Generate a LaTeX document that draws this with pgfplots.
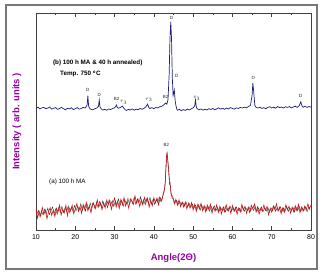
\documentclass[border=0pt]{standalone}
\usepackage{pgfplots}
\pgfplotsset{compat=1.18}
\usepackage{fontspec}
\setmainfont{Liberation Sans}
\definecolor{navyline}{RGB}{30,30,120}
\definecolor{redline}{RGB}{205,20,20}
\definecolor{lblpurple}{RGB}{150,0,160}
\definecolor{framegray}{RGB}{120,120,120}
\begin{document}
\begin{tikzpicture}
\begin{axis}[
  name=ax,
  scale only axis,
  width=275pt, height=217pt,
  xmin=10, xmax=80, ymin=0, ymax=100,
  xtick={10,20,...,80},
  minor x tick num=1,
  ytick=\empty,
  tick align=inside,
  major tick length=4pt,
  minor tick length=2.5pt,
  axis line style={black!75, line width=0.6pt},
  every tick/.style={black!75, line width=0.5pt},
  clip=false,
  /pgf/number format/assume math mode=true,
  xticklabel style={font=\fontsize{7}{8}\selectfont, yshift=-1pt},
  xlabel={Angle(2Θ)},
  ylabel={Intensity ( arb. units )},
  xlabel style={font=\fontsize{9.5}{11}\selectfont\bfseries, text=lblpurple, at={(axis description cs:0.5,-0.129)}, anchor=center},
  ylabel style={font=\fontsize{9.5}{11}\selectfont\bfseries, text=lblpurple, at={(axis description cs:-0.069,0.5)}, anchor=center, rotate=0},
]
% (b) annealed pattern
\addplot[navyline, line width=0.7pt] coordinates {
(10,56.0)(10.5,56.6)(11,55.8)(11.5,56.3)(12,56.5)(12.5,55.9)(13,56.2)(13.5,56.7)(14,55.7)(14.5,56.1)
(15,56.4)(15.5,55.6)(16,56.0)(16.5,56.5)(17,55.9)(17.5,55.4)(18,56.1)(18.5,55.8)(19,56.3)(19.5,55.5)
(20,55.9)(20.5,56.4)(21,55.7)(21.5,56.0)(22,56.5)(22.5,56.2)(23,57.5)(23.2,61.9)(23.4,57.0)(23.7,56.0)
(24,55.6)(24.5,55.4)(25,55.9)(25.5,56.2)(25.9,57.0)(26.1,59.9)(26.3,56.6)(26.6,55.8)(27,55.3)(27.5,55.6)
(28,55.2)(28.5,55.8)(29,55.5)(29.5,56.0)(30,56.3)(30.3,57.0)(30.5,57.6)(30.7,56.4)(31,56.1)(31.5,56.5)
(32,57.1)(32.3,56.3)(32.7,55.4)(33,55.1)(33.5,55.6)(34,55.3)(34.5,55.8)(35,55.2)(35.5,55.7)(36,55.4)
(36.5,56.0)(37,55.6)(37.5,56.1)(38,56.8)(38.4,58.0)(38.7,56.5)(39,56.0)(39.5,56.4)(40,55.9)(40.5,56.5)
(41,56.2)(41.5,56.8)(42,57.0)(42.5,57.6)(43,58.5)(43.3,58.0)(43.6,60.0)(43.9,72)(44.1,88)(44.3,96.0)
(44.5,88)(44.7,70)(44.9,62)(45.1,63.5)(45.2,64.5)(45.4,60)(45.6,57.5)(45.8,56.0)(46,55.2)(46.5,55.6)
(47,55.0)(47.5,55.5)(48,55.1)(48.5,55.7)(49,55.3)(49.5,55.8)(50,56.3)(50.4,57.2)(50.6,59.9)(50.8,56.8)
(51,55.9)(51.5,55.4)(52,55.8)(52.5,55.2)(53,55.7)(53.5,55.3)(54,55.9)(54.5,55.5)(55,56.0)(55.5,55.4)
(56,55.8)(56.5,56.3)(57,55.7)(57.5,56.1)(58,55.6)(58.5,56.2)(59,55.8)(59.5,56.4)(60,56.0)(60.5,55.7)
(61,56.3)(61.5,56.0)(62,56.5)(62.5,56.2)(63,56.6)(63.5,56.3)(64,56.8)(64.6,57.5)(65,62.0)(65.2,67.7)
(65.4,64.0)(65.7,57.5)(66,56.5)(66.5,56.2)(67,56.6)(67.5,56.0)(68,56.4)(68.5,55.9)(69,56.5)(69.5,56.8)
(70,56.2)(70.5,56.6)(71,56.1)(71.5,56.9)(72,56.4)(72.5,56.7)(73,56.2)(73.5,56.8)(74,56.5)(74.5,56.9)
(75,56.3)(75.5,56.7)(76,57.0)(76.5,56.5)(77,57.3)(77.4,59.1)(77.7,57.2)(78,56.6)(78.5,57.0)(79,56.5)
(79.5,56.9)(80,56.6)
};
% (a) 100 h MA, dark trace
\addplot[black!80, line width=0.4pt] coordinates {
(10.2,7.0)(10.6,9.1)(11.0,6.2)(11.4,8.8)(11.8,6.9)(12.2,9.6)(12.6,7.4)(13.0,10.1)(13.4,7.1)(13.8,8.9)
(14.2,10.6)(14.6,7.5)(15.0,9.7)(15.4,7.2)(15.8,10.3)(16.2,8.1)(16.6,10.9)(17.0,8.0)(17.4,10.2)(17.8,8.4)
(18.2,11.1)(18.6,7.9)(19.0,10.4)(19.4,8.6)(19.8,11.3)(20.2,8.8)(20.6,11.0)(21.0,9.2)(21.4,12.1)(21.8,9.0)
(22.2,11.3)(22.6,8.7)(23.0,11.9)(23.4,9.6)(23.8,12.4)(24.2,10.0)(24.6,12.6)(25.0,9.8)(25.4,12.8)(25.8,10.4)
(26.2,13.2)(26.6,10.6)(27.0,13.4)(27.4,10.9)(27.8,12.7)(28.2,10.3)(28.6,13.9)(29.0,11.2)(29.4,13.6)(29.8,10.8)
(30.2,13.5)(30.6,11.6)(31.0,14.3)(31.4,11.3)(31.8,13.7)(32.2,10.9)(32.6,13.9)(33.0,12.0)(33.4,14.6)(33.8,11.7)
(34.2,14.1)(34.6,12.2)(35.0,15.1)(35.4,11.9)(35.8,14.4)(36.2,12.5)(36.6,15.3)(37.0,12.1)(37.4,14.0)(37.8,11.6)
(38.2,14.5)(38.6,12.3)(39.0,15.0)(39.4,12.0)(39.8,14.2)(40.2,11.8)(40.6,14.0)(41.0,12.7)(41.4,15.2)(41.8,13.0)
(42.2,15.1)(42.6,17.5)(42.9,22.0)(43.1,29.0)(43.3,35.0)(43.5,33.0)(43.7,28.5)(43.9,24.0)(44.1,22.5)(44.3,18.0)
(44.6,15.0)(45.0,14.0)(45.4,12.5)(45.8,13.6)(46.2,11.9)(46.6,13.2)(47.0,11.5)(47.4,12.6)(47.8,11.0)(48.2,12.8)
(48.6,10.6)(49.0,12.2)(49.4,10.4)(49.8,11.9)(50.2,10.1)(50.6,11.5)(51.0,9.6)(51.4,11.7)(51.8,9.2)(52.2,11.4)
(52.6,9.5)(53.0,11.0)(53.4,9.0)(53.8,10.8)(54.2,8.7)(54.6,10.9)(55.0,9.3)(55.4,11.1)(55.8,8.9)(56.2,10.3)
(56.6,8.6)(57.0,10.5)(57.4,8.9)(57.8,10.8)(58.2,8.3)(58.6,10.1)(59.0,8.7)(59.4,11.0)(59.8,8.9)(60.2,10.2)
(60.6,8.5)(61.0,10.6)(61.4,8.8)(61.8,10.0)(62.2,8.4)(62.6,10.7)(63.0,8.6)(63.4,10.3)(63.8,8.9)(64.2,10.8)
(64.6,8.7)(65.0,10.4)(65.4,9.0)(65.8,10.9)(66.2,8.3)(66.6,10.2)(67.0,8.8)(67.4,10.6)(67.8,8.5)(68.2,10.1)
(68.6,8.7)(69.0,10.5)(69.4,8.2)(69.8,10.3)(70.2,8.8)(70.6,10.9)(71.0,8.6)(71.4,10.4)(71.8,8.9)(72.2,10.7)
(72.6,8.4)(73.0,10.2)(73.4,8.7)(73.8,10.8)(74.2,8.5)(74.6,10.3)(75.0,8.9)(75.4,10.6)(75.8,8.3)(76.2,10.5)
(76.6,8.8)(77.0,10.9)(77.4,8.6)(77.8,10.2)(78.2,8.9)(78.6,10.7)(79.0,8.4)(79.4,10.5)(79.8,9.0)
};
% (a) 100 h MA, red trace
\addplot[redline, line width=0.6pt] coordinates {
(10.0,9.3)(10.4,5.5)(10.8,8.6)(11.2,6.3)(11.6,10.4)(12.0,7.2)(12.4,9.2)(12.8,5.2)(13.2,8.5)(13.6,10.3)
(14.0,6.7)(14.4,9.2)(14.8,6.2)(15.2,10.0)(15.6,8.3)(16.0,11.5)(16.4,6.9)(16.8,9.5)(17.2,7.9)(17.6,11.4)
(18.0,6.6)(18.4,10.3)(18.8,8.9)(19.2,11.4)(19.6,7.5)(20.0,9.8)(20.4,12.2)(20.8,8.6)(21.2,10.7)(21.6,7.7)
(22.0,11.8)(22.4,9.5)(22.8,12.7)(23.2,8.9)(23.6,11.0)(24.0,7.9)(24.4,12.3)(24.8,11.5)(25.2,9.9)(25.6,13.9)
(26.0,10.7)(26.4,12.5)(26.8,9.3)(27.2,12.5)(27.6,10.2)(28.0,13.8)(28.4,11.6)(28.8,13.6)(29.2,9.5)(29.6,12.6)
(30.0,14.7)(30.4,10.5)(30.8,13.1)(31.2,10.0)(31.6,14.1)(32.0,11.7)(32.4,14.9)(32.8,11.1)(33.2,13.2)(33.6,10.1)
(34.0,14.4)(34.4,13.5)(34.8,11.8)(35.2,15.7)(35.6,12.4)(36.0,14.1)(36.4,10.8)(36.8,13.9)(37.2,11.5)(37.6,15.0)
(38.0,12.8)(38.4,14.7)(38.8,10.5)(39.2,13.6)(39.6,11.2)(40.0,14.9)(40.4,12.5)(40.8,14.8)(41.2,11.6)(41.6,14.9)
(42.0,13.4)(42.4,16.8)(42.8,19.5)(43.0,25.5)(43.2,34.0)(43.4,35.5)(43.6,31.0)(43.8,27.2)(44.0,21.0)(44.2,20.5)
(44.4,16.0)(44.8,15.6)(45.2,12.1)(45.6,14.2)(46.0,11.3)(46.4,13.9)(46.8,10.8)(47.2,13.0)(47.6,10.5)(48.0,12.9)
(48.4,9.8)(48.8,12.4)(49.2,10.1)(49.6,12.6)(50.0,9.2)(50.4,11.8)(50.8,8.6)(51.2,11.9)(51.6,9.7)(52.0,12.3)
(52.4,8.9)(52.8,11.2)(53.2,8.3)(53.6,11.5)(54.0,9.4)(54.4,11.8)(54.8,7.8)(55.2,10.6)(55.6,8.7)(56.0,11.6)
(56.4,8.1)(56.8,10.9)(57.2,7.4)(57.6,10.2)(58.0,8.4)(58.4,11.7)(58.8,9.0)(59.2,10.6)(59.6,7.6)(60.0,11.3)
(60.4,8.8)(60.8,10.4)(61.2,7.2)(61.6,10.1)(62.0,8.3)(62.4,11.8)(62.8,9.2)(63.2,10.9)(63.6,7.7)(64.0,10.3)
(64.4,8.0)(64.8,11.4)(65.2,9.8)(65.6,12.0)(66.0,8.5)(66.4,10.7)(66.8,7.3)(67.2,10.0)(67.6,8.6)(68.0,11.5)
(68.4,9.1)(68.8,10.8)(69.2,7.0)(69.6,9.9)(70.0,8.2)(70.4,11.1)(70.8,9.4)(71.2,12.1)(71.6,8.7)(72.0,10.5)
(72.4,7.5)(72.8,10.2)(73.2,8.1)(73.6,11.6)(74.0,9.3)(74.4,10.9)(74.8,7.8)(75.2,10.4)(75.6,8.4)(76.0,11.2)
(76.4,8.9)(76.8,11.8)(77.2,8.0)(77.6,10.6)(78.0,8.6)(78.4,11.0)(78.8,9.3)(79.2,12.0)(79.6,9.8)(80.0,11.5)
};
% annotations
\node[anchor=west, font=\fontsize{6.3}{7}\selectfont\bfseries, inner sep=0pt] at (axis cs:14.3,77.1) {(b) 100 h MA \& 40 h annealed)};
\node[anchor=west, font=\fontsize{6.3}{7}\selectfont\bfseries, inner sep=0pt] at (axis cs:16.1,71.9) {Temp. 750 \textsuperscript{o}C};
\node[anchor=west, font=\fontsize{6.3}{7}\selectfont, inner sep=0pt] at (axis cs:13.3,22.1) {(a) 100 h MA};
\begin{scope}[every node/.style={font=\fontsize{4.5}{5}\selectfont, inner sep=0pt, text=black!85}]
\node at (axis cs:23.2,64.5) {D};
\node at (axis cs:26.1,62.2) {D};
\node at (axis cs:30.5,60.4) {B2};
\node at (axis cs:32.3,58.7) {$\tau_3$};
\node at (axis cs:38.7,59.9) {$\tau_3$};
\node at (axis cs:43.0,61.4) {B2};
\node at (axis cs:44.5,97.8) {D};
\node at (axis cs:45.8,71.0) {D};
\node at (axis cs:50.9,60.7) {$\tau_3$};
\node at (axis cs:65.3,70.2) {D};
\node at (axis cs:77.4,61.9) {D};
\node at (axis cs:43.2,39.2) {B2};
\end{scope}
\end{axis}
\useasboundingbox ([xshift=-36pt,yshift=-43pt]ax.south west) rectangle ([xshift=12pt,yshift=13pt]ax.north east);
\draw[framegray, line width=1.6pt] ([xshift=-30pt,yshift=-39pt]ax.south west) rectangle ([xshift=6pt,yshift=8pt]ax.north east);
\end{tikzpicture}
\end{document}
